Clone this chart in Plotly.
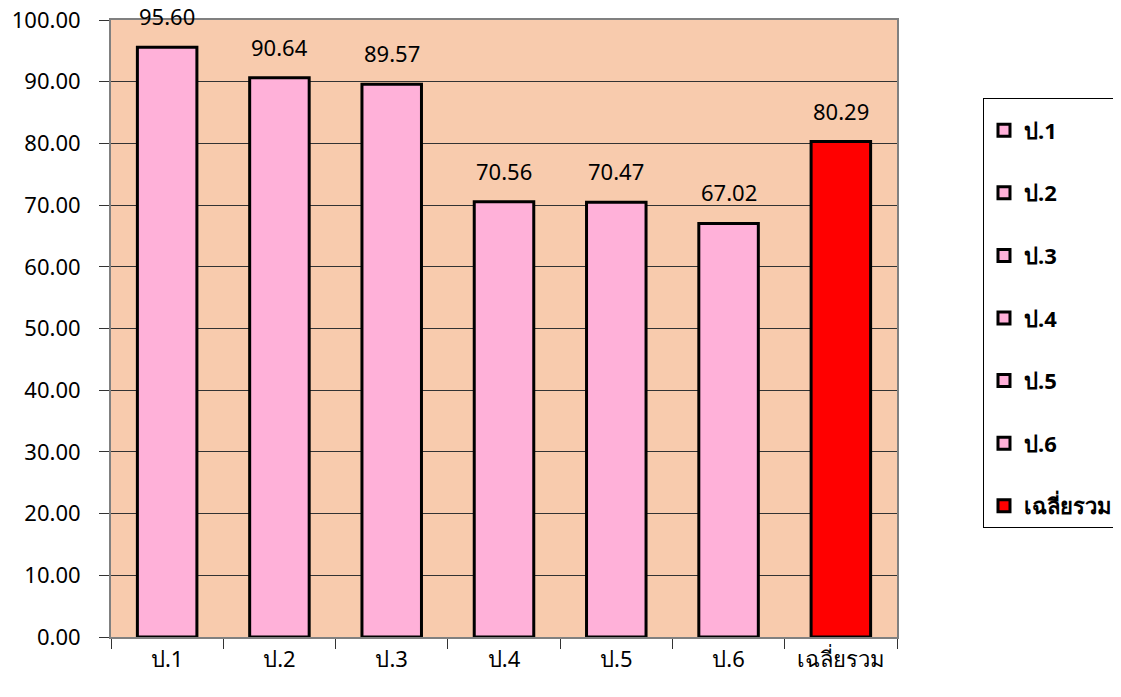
import plotly.graph_objects as go

categories = ["ป.1", "ป.2", "ป.3", "ป.4", "ป.5", "ป.6", "เฉลี่ยรวม"]
values = [95.60, 90.64, 89.57, 70.56, 70.47, 67.02, 80.29]
bar_colors = ["#FFB1D9"] * 6 + ["#FF0000"]
y_ticks = [0, 10, 20, 30, 40, 50, 60, 70, 80, 90, 100]

FONT = "Noto Sans, Tahoma, sans-serif"

fig = go.Figure()
for cat, val, col in zip(categories, values, bar_colors):
    fig.add_trace(go.Bar(
        x=[cat], y=[val], name=cat, legendgroup=cat,
        marker=dict(color=col, line=dict(color="black", width=3)),
        width=0.53,
    ))
    fig.add_annotation(
        x=cat, y=val, text=f"{val:.2f}", showarrow=False,
        yanchor="bottom", yshift=14,
        font=dict(family=FONT, size=22, color="black"),
    )

fig.update_layout(
    width=1121, height=697,
    margin=dict(l=103, r=231, t=12, b=68),
    paper_bgcolor="white",
    plot_bgcolor="#F8CBAD",
    barmode="overlay",
    showlegend=True,
    legend=dict(
        x=1.108, y=0.8736, xanchor="left", yanchor="top",
        bordercolor="black", borderwidth=1, bgcolor="white",
        font=dict(family=FONT, size=22, color="black", weight="bold"),
        title=dict(text=" ", font=dict(size=8)),
        tracegroupgap=31, itemwidth=30,
    ),
    font=dict(family=FONT, size=22, color="black"),
)
fig.update_yaxes(
    range=[0, 100], tickvals=y_ticks, tickformat=".2f",
    showgrid=True, gridcolor="#333333", gridwidth=1,
    showline=True, linecolor="#808080", linewidth=2, mirror=True,
    ticks="outside", ticklen=10, tickcolor="#333333",
    ticklabelstandoff=14, automargin=False, ticklabeloverflow="allow",
    tickfont=dict(family=FONT, size=22, color="black"),
    zeroline=False,
)
fig.update_xaxes(
    type="category", categoryorder="array", categoryarray=categories,
    tickson="boundaries", ticks="outside", ticklen=10, tickcolor="#333333",
    showline=True, linecolor="#808080", linewidth=2, mirror=True,
    showgrid=False, automargin=False,
    tickfont=dict(family=FONT, size=22, color="black"),
    ticklabelstandoff=2,
)

fig.write_html("out.html")
